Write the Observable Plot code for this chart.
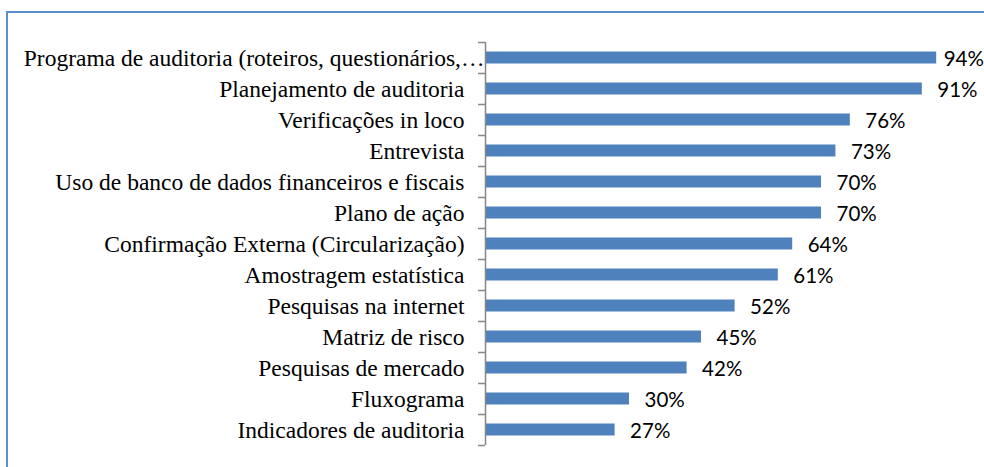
<!DOCTYPE html>
<html>
<head>
<meta charset="utf-8">
<script src="https://cdn.jsdelivr.net/npm/d3@7"></script>
<script src="https://cdn.jsdelivr.net/npm/@observablehq/plot@0.6"></script>
<style>
  html, body { margin: 0; padding: 0; background: #fff; }
  #wrap { position: relative; width: 984px; height: 467px; overflow: hidden; }
  #frame { position: absolute; left: 6px; top: 11px; width: 1000px; height: 500px; border: 2px solid #5B8ECF; box-sizing: border-box; }
  #chart { position: absolute; left: 0; top: 0; }
</style>
</head>
<body>
<div id="wrap">
  <div id="frame"></div>
  <div id="chart"></div>
</div>
<script>
const categories = [
  "Programa de auditoria (roteiros, questionários,…",
  "Planejamento de auditoria",
  "Verificações in loco",
  "Entrevista",
  "Uso de banco de dados financeiros e fiscais",
  "Plano de ação",
  "Confirmação Externa (Circularização)",
  "Amostragem estatística",
  "Pesquisas na internet",
  "Matriz de risco",
  "Pesquisas de mercado",
  "Fluxograma",
  "Indicadores de auditoria"
];
const values = [0.94, 0.91, 0.76, 0.73, 0.70, 0.70, 0.64, 0.61, 0.52, 0.45, 0.42, 0.30, 0.27];

const data = categories.map((c, i) => ({category: c, value: values[i]}));
const truncated = categories.filter(c => c.endsWith("…"));
const regular = categories.filter(c => !c.endsWith("…"));

const W = 984, H = 467, mTop = 42, mBottom = 22;
const half = (H - mTop - mBottom) / categories.length / 2;
const serif = "'Liberation Serif', 'Times New Roman', serif";
const fmt = d3.format(".0%");
// labels that would run past the chart edge are pulled closer to their bar
const fits = d => d.value <= 0.92;

const labelStyle = {x: "value", y: "category", text: d => fmt(d.value), dy: 1, textAnchor: "start",
  fontFamily: "Lato", fontSize: 20.5, fill: "#000"};

const plot = Plot.plot({
  width: W,
  height: H,
  marginLeft: 485,
  marginRight: 19,
  marginTop: mTop,
  marginBottom: mBottom,
  style: {background: "transparent", overflow: "visible"},
  x: {domain: [0, 1], axis: null},
  y: {domain: categories, padding: 0, axis: null},
  marks: [
    Plot.barX(data, {x: "value", y: "category", fill: "#4F81BD", insetTop: 9.5, insetBottom: 9.5}),
    Plot.text(data.filter(fits), {...labelStyle, dx: 15}),
    Plot.text(data.filter(d => !fits(d)), {...labelStyle, dx: 7}),
    Plot.axisY({ticks: regular, label: null, tickSize: 0, tickPadding: 21, fontFamily: serif, fontSize: 23.5, fill: "#000", textStroke: null}),
    Plot.axisY({ticks: truncated, label: null, tickSize: 0, tickPadding: 1, fontFamily: serif, fontSize: 23.5, fill: "#000", textStroke: null}),
    Plot.axisY({ticks: categories, label: null, tickSize: 7, text: null, dy: -half, stroke: "#868686", strokeWidth: 1.5}),
    Plot.axisY({ticks: categories.slice(-1), label: null, tickSize: 7, text: null, dy: half, stroke: "#868686", strokeWidth: 1.5}),
    Plot.ruleX([0], {stroke: "#868686", strokeWidth: 1.5})
  ]
});
document.getElementById("chart").appendChild(plot);
</script>
</body>
</html>
